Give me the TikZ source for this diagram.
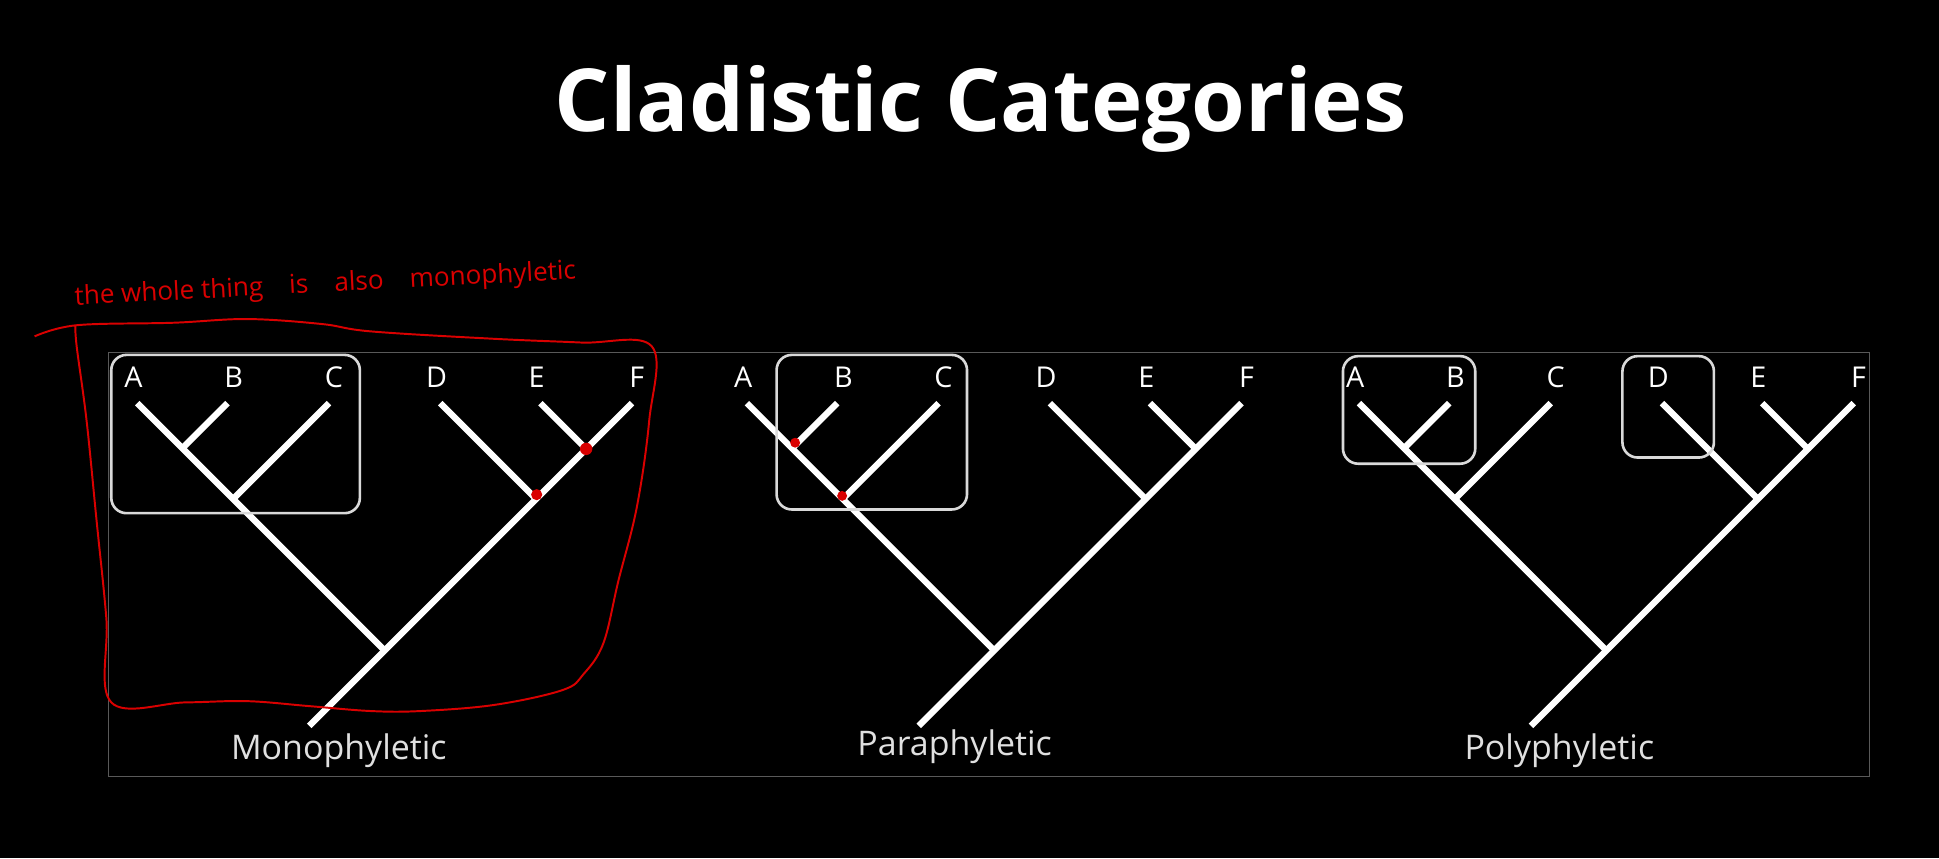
\documentclass[tikz,border=0pt]{standalone}
\usepackage{fontspec}
\setmainfont{Open Sans}
\begin{document}
\begin{tikzpicture}[x=0.01cm,y=-0.01cm,
  branch/.style={draw=white,line width=1.45pt},
  tip/.style={text=white,font=\fontsize{6.6}{7}\selectfont,inner sep=0pt},
  caption/.style={text=white!88!black,font=\fontsize{7.8}{9}\selectfont,inner sep=0pt},
  clade/.style={draw=white!85!black,line width=0.6pt,rounded corners=3.5pt},
  reddot/.style={fill=red!85!black,draw=none}]
\fill[black] (0,0) rectangle (1568,694);
\useasboundingbox (0,0) rectangle (1568,694);
\node[text=white,font=\bfseries\fontsize{20}{24}\selectfont] (title) at (793,88) {Cladistic Categories};
\draw[white!35!black,line width=0.3pt] (88,285) rectangle (1512,628);
\foreach \o/\n in {0/m,493/p,988/q}{
  \begin{scope}[xshift=\o*0.01cm]
    \coordinate (\n A) at (111,326); \coordinate (\n B) at (184,326);
    \coordinate (\n C) at (266,326); \coordinate (\n D) at (356,326);
    \coordinate (\n E) at (437,326); \coordinate (\n F) at (511,326);
    \coordinate (\n ab) at (147.5,362.5); \coordinate (\n abc) at (188.5,403.5);
    \coordinate (\n r) at (311,526); \coordinate (\n s) at (250,587);
    \coordinate (\n ef) at (474,363); \coordinate (\n def) at (433.5,403.5);
    \draw[branch] (\n A) -- (\n r); \draw[branch] (\n F) -- (\n s);
    \draw[branch] (\n B) -- (\n ab); \draw[branch] (\n C) -- (\n abc);
    \draw[branch] (\n D) -- (\n def); \draw[branch] (\n E) -- (\n ef);
    \foreach \l/\x in {A/108,B/189,C/270,D/353,E/434,F/515}{\node[tip,anchor=base] (\n l\l) at (\x,313) {\l};}
  \end{scope}}
\node[caption] (lm) at (274,607) {Monophyletic};
\node[caption] (lp) at (772,604) {Paraphyletic};
\node[caption] (lq) at (1261,607) {Polyphyletic};
\draw[clade] (90,287) rectangle (291,415);
\draw[clade] (628,287) rectangle (782,412);
\draw[clade] (1086,288) rectangle (1193,375);
\draw[clade] (1312,288) rectangle (1386,370);
\fill[reddot] (474,363) circle (5);
\fill[reddot] (434,400) circle (4.5);
\fill[reddot] (643,358) circle (4);
\fill[reddot] (681,401) circle (4);
\draw[red!85!black,line width=0.45pt] plot[smooth,tension=0.6] coordinates{
  (28,272) (62,263) (140,261) (200,258) (260,262) (300,268) (400,274) (470,277) (527,280)
  (525,340) (515,410) (500,470) (488,520) (472,545) (455,558) (400,570) (340,575)
  (300,575) (250,571) (200,567) (150,568) (90,568) (86,500) (78,420) (70,340) (62,280) (61,263)};
\node[text=red!85!black,font=\fontsize{6}{7}\selectfont,rotate=3,anchor=west] (note) at (48,242)
  {the whole\ thing\quad is\quad also\quad monophyletic};
\end{tikzpicture}
\end{document}
